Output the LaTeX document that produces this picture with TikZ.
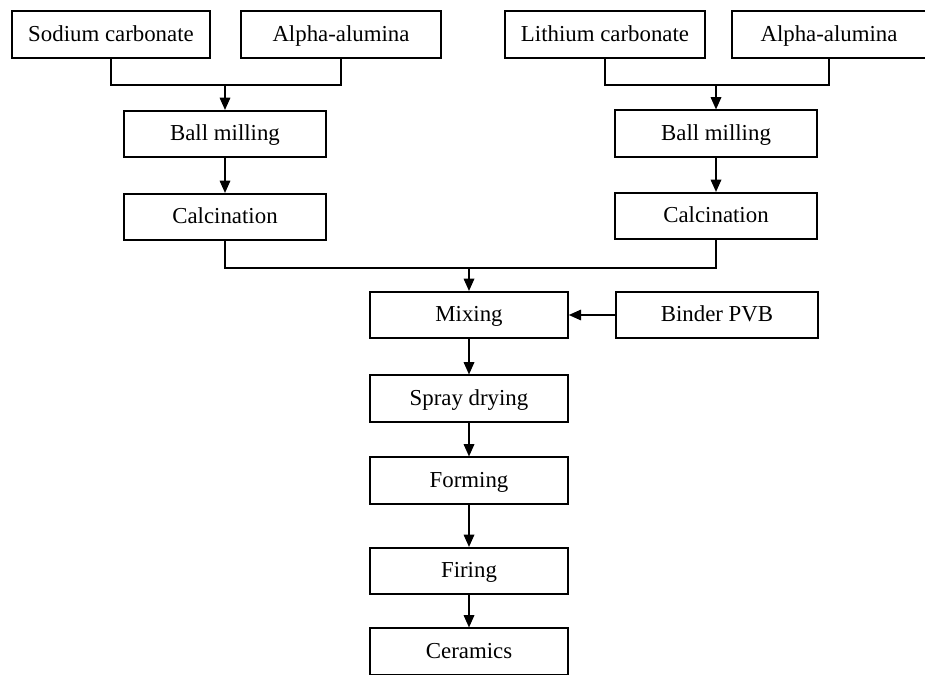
\documentclass[tikz,border=0pt]{standalone}
\usepackage{fontspec}
\setmainfont{Liberation Serif}
\usetikzlibrary{arrows.meta}
\tikzstyle{box} = [draw=black, line width=0.9pt, rectangle, minimum height=0.93cm, inner sep=0pt, text height=8.8pt, text depth=1pt, font={\fontsize{13}{15}\selectfont}]
\tikzstyle{link} = [line width=0.9pt]
\tikzstyle{flow} = [link, -{Triangle[length=7pt,width=6pt]}]

\begin{document}
\begin{tikzpicture}[x=0.02cm,y=-0.02cm]
        \useasboundingbox (0,0) rectangle (925,675);
        \node[box,minimum width=3.96cm](na) at (111,34.5){Sodium carbonate};
        \node[box,minimum width=4cm](al1) at (341,34.5){Alpha-alumina};
        \node[box,minimum width=4cm](li) at (605,34.5){Lithium carbonate};
        \node[box,minimum width=3.88cm](al2) at (829,34.5){Alpha-alumina};
        \node[box,minimum width=4.04cm](bm1) at (225,134){Ball milling};
        \node[box,minimum width=4.04cm](ca1) at (225,217){Calcination};
        \node[box,minimum width=4.04cm](bm2) at (716,133.5){Ball milling};
        \node[box,minimum width=4.04cm](ca2) at (716,216){Calcination};
        \node[box,minimum width=3.96cm](mix) at (469,315){Mixing};
        \node[box,minimum width=4.04cm](pvb) at (717,315){Binder PVB};
        \node[box,minimum width=3.96cm](spray) at (469,398.5){Spray drying};
        \node[box,minimum width=3.96cm](form) at (469,480.5){Forming};
        \node[box,minimum width=3.96cm](fire) at (469,571){Firing};
        \node[box,minimum width=3.96cm](cer) at (469,651.5){Ceramics};
        \coordinate (j1) at (225,85);
        \coordinate (j2) at (716,85);
        \coordinate (j3) at (469,268);
        \draw[link](na.south)|-(j1);
        \draw[link](al1.south)|-(j1);
        \draw[flow](j1)--(bm1);
        \draw[link](li.south)|-(j2);
        \draw[link](al2.south)|-(j2);
        \draw[flow](j2)--(bm2);
        \draw[flow](bm1)--(ca1);
        \draw[flow](bm2)--(ca2);
        \draw[link](ca1.south)|-(j3);
        \draw[link](ca2.south)|-(j3);
        \draw[flow](j3)--(mix);
        \draw[flow](pvb)--(mix);
        \draw[flow](mix)--(spray);
        \draw[flow](spray)--(form);
        \draw[flow](form)--(fire);
        \draw[flow](fire)--(cer);
      \end{tikzpicture}
\end{document}
